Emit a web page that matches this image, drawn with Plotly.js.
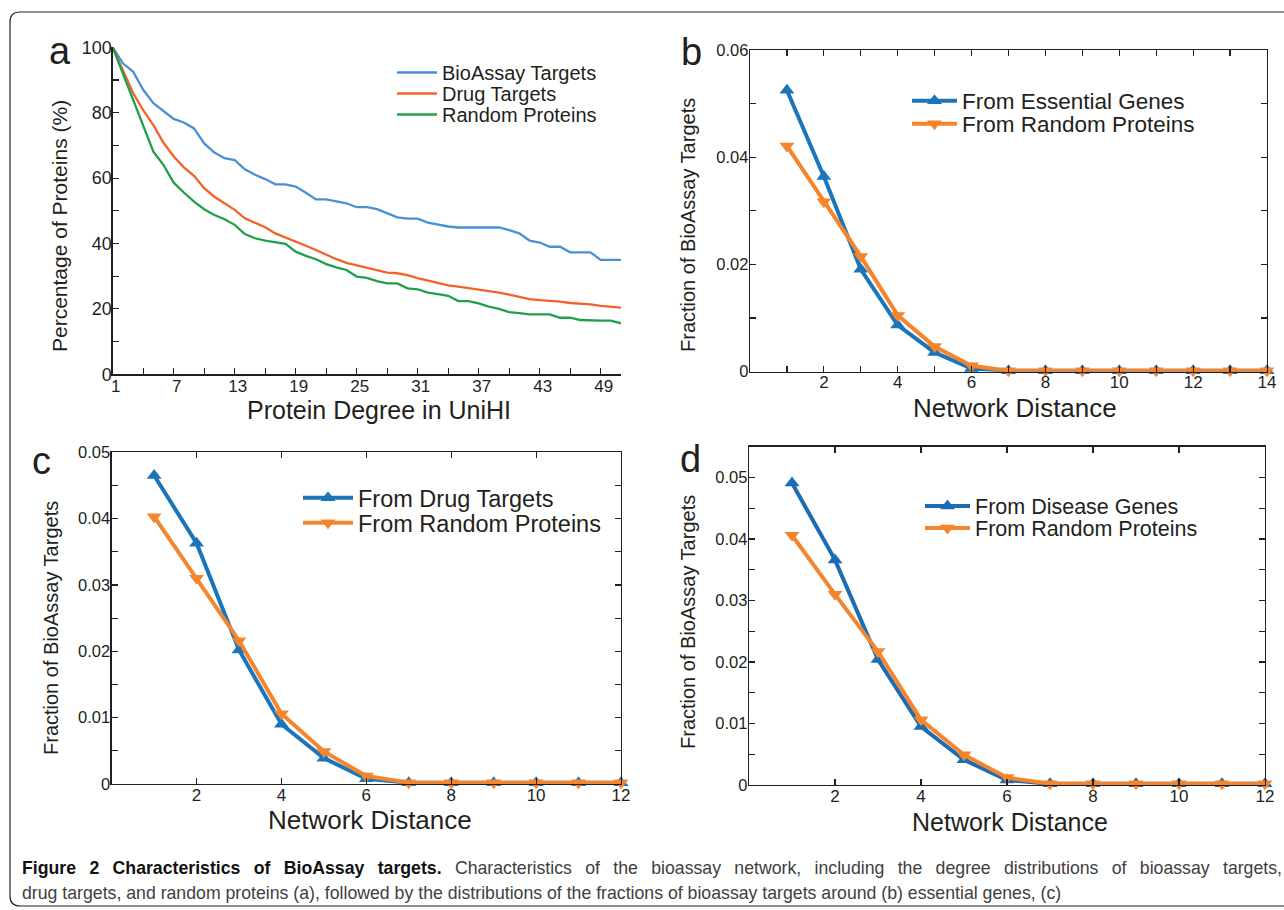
<!DOCTYPE html>
<html>
<head>
<meta charset="utf-8">
<script src="https://cdn.plot.ly/plotly-3.0.1.min.js"></script>
<style>
  html, body { margin: 0; padding: 0; background: #ffffff; }
  #chart { width: 1284px; height: 910px; }
</style>
</head>
<body>
<div id="chart"></div>
<script>
// ---------- Panel a: degree distribution (percentage of proteins with degree >= k) ----------
const degree = [1,2,3,4,5,6,7,8,9,10,11,12,13,14,15,16,17,18,19,20,21,22,23,24,25,26,27,28,29,30,31,32,33,34,35,36,37,38,39,40,41,42,43,44,45,46,47,48,49,50,51];
const bioassayTargets = [100,95.1,92.6,87,82.9,80.6,78.1,77,75.2,70.6,
  67.8,66.1,65.5,62.7,61,59.7,58.1,58.1,57.4,55.5,
  53.5,53.5,53,52.3,51.1,51.1,50.5,49.2,48,47.6,
  47.6,46.4,45.8,45.2,44.9,44.9,44.9,44.9,44.9,44.1,
  43.1,40.9,40.3,39,39,37.3,37.3,37.3,35,35,35];
const drugTargets = [100,93,86,80.8,76.2,70.8,66.6,63.3,60.7,56.9,
  54.3,52.3,50.3,47.7,46.4,45,43.1,41.9,40.6,39.3,
  38,36.5,35.2,34.1,33.4,32.6,31.9,31.1,30.9,30.3,
  29.4,28.6,27.8,27.2,26.8,26.4,26,25.4,25,24.4,
  23.8,23,22.7,22.5,22.2,21.8,21.7,21.4,20.9,20.7,20.4];
const randomProteins = [100,92,84.4,76.2,68.1,64,58.6,55.6,52.8,50.5,
  48.7,47.4,45.7,42.9,41.6,40.9,40.4,39.9,37.5,36.2,
  35.2,33.7,32.7,31.9,29.9,29.5,28.5,27.8,27.8,26.3,
  26,25,24.5,24,22.4,22.4,21.7,20.7,20,19,
  18.7,18.3,18.3,18.3,17.3,17.3,16.6,16.4,16.4,16.4,15.6];
const degreeTickLabels = [1,7,13,19,25,31,37,43,49];

// ---------- Panel b: around essential genes ----------
const distanceB = [1,2,3,4,5,6,7,8,9,10,11,12,13,14];
const fromEssentialGenes = [0.0525,0.0364,0.0191,0.0087,0.0036,0.0006,0.0002,0.0002,0.0002,0.0002,0.0002,0.0002,0.0002,0.0002];
const fromRandomB = [0.0421,0.0317,0.0215,0.0105,0.0047,0.0011,0.0002,0.0002,0.0002,0.0002,0.0002,0.0002,0.0002,0.0002];

// ---------- Panel c: around drug targets ----------
const distanceC = [1,2,3,4,5,6,7,8,9,10,11,12];
const fromDrugTargets = [0.0465,0.0363,0.0202,0.009,0.0039,0.0008,0.0002,0.0002,0.0002,0.0002,0.0002,0.0002];
const fromRandomC = [0.0403,0.031,0.0216,0.0106,0.0049,0.0012,0.0002,0.0002,0.0002,0.0002,0.0002,0.0002];

// ---------- Panel d: around disease genes ----------
const distanceD = [1,2,3,4,5,6,7,8,9,10,11,12];
const fromDiseaseGenes = [0.0491,0.0366,0.0204,0.0095,0.0041,0.0008,0.0002,0.0002,0.0002,0.0002,0.0002,0.0002];
const fromRandomD = [0.0406,0.031,0.0217,0.0106,0.0049,0.0012,0.0002,0.0002,0.0002,0.0002,0.0002,0.0002];
const distanceTickLabelsB = [2,4,6,8,10,12,14];
const distanceTickLabelsCD = [2,4,6,8,10,12];

const captionBold = 'Figure 2 Characteristics of BioAssay targets.';
const captionLine1 = ' Characteristics of the bioassay network, including the degree distributions of bioassay targets,';
const captionLine2 = 'drug targets, and random proteins (a), followed by the distributions of the fractions of bioassay targets around (b) essential genes, (c)';

// ---------- layout helpers (pixel -> paper) ----------
const W = 1284, H = 910;
const X = p => p / W;
const Y = p => 1 - p / H;
const FONT = 'Liberation Sans, Arial, Helvetica, sans-serif';
const AX = '#231f20';
const TXT = '#231f20';

const BLUE_A = '#4a90d3', ORANGE_A = '#f2622a', GREEN_A = '#20a04a';
const BLUE = '#1b75bb', BLUE_D = '#1c6bb3', ORANGE = '#f5852c';

function lineTrace(x, y, name, color, legendId) {
  return {x: x, y: y, type: 'scatter', mode: 'lines', name: name,
    line: {color: color, width: 2.3}, xaxis: 'x', yaxis: 'y', legend: legendId};
}
function markTrace(x, y, name, color, symbol, ax, legendId) {
  return {x: x, y: y, type: 'scatter', mode: 'lines+markers', name: name,
    line: {color: color, width: 4}, marker: {symbol: symbol, size: 13, color: color},
    xaxis: 'x' + ax, yaxis: 'y' + ax, legend: legendId, cliponaxis: false};
}

const traces = [
  lineTrace(degree, bioassayTargets, 'BioAssay Targets', BLUE_A, 'legend'),
  lineTrace(degree, drugTargets, 'Drug Targets', ORANGE_A, 'legend2'),
  lineTrace(degree, randomProteins, 'Random Proteins', GREEN_A, 'legend3'),
  markTrace(distanceB, fromEssentialGenes, 'From Essential Genes', BLUE, 'triangle-up', 2, 'legend4'),
  markTrace(distanceB, fromRandomB, 'From Random Proteins', ORANGE, 'triangle-down', 2, 'legend5'),
  markTrace(distanceC, fromDrugTargets, 'From Drug Targets', BLUE, 'triangle-up', 3, 'legend6'),
  markTrace(distanceC, fromRandomC, 'From Random Proteins', ORANGE, 'triangle-down', 3, 'legend7'),
  markTrace(distanceD, fromDiseaseGenes, 'From Disease Genes', BLUE_D, 'triangle-up', 4, 'legend8'),
  markTrace(distanceD, fromRandomD, 'From Random Proteins', ORANGE, 'triangle-down', 4, 'legend9')
];

function axisBase(extra) {
  return Object.assign({
    showline: true, linecolor: AX, linewidth: 1.3,
    ticks: 'inside', ticklen: 6, tickwidth: 1.2, tickcolor: AX,
    showgrid: false, zeroline: false, fixedrange: true,
    tickfont: {family: FONT, size: 17, color: TXT}
  }, extra);
}
function minor(extra) {
  return Object.assign({ticks: 'inside', ticklen: 6, tickwidth: 1.2, tickcolor: AX, showgrid: false}, extra);
}
function legendAt(px, py, size, itemwidth) {
  return {x: X(px), y: Y(py), xanchor: 'left', yanchor: 'middle', bgcolor: 'rgba(0,0,0,0)',
    font: {family: FONT, size: size, color: TXT}, tracegroupgap: 0, itemwidth: itemwidth};
}
function label(text, px, py, size, angle) {
  return {text: text, x: X(px), y: Y(py), xref: 'paper', yref: 'paper', showarrow: false,
    textangle: angle || 0, xanchor: 'center', yanchor: 'middle', font: {family: FONT, size: size, color: TXT}};
}

const layout = {
  width: W, height: H, autosize: false,
  margin: {l: 0, r: 0, t: 0, b: 0},
  paper_bgcolor: '#ffffff', plot_bgcolor: 'rgba(0,0,0,0)',
  font: {family: FONT, color: TXT},
  showlegend: true,

  // Panel a
  xaxis: axisBase({domain: [X(112.7), X(621)], range: [1, 51], anchor: 'y',
    tickmode: 'array', tickvals: degreeTickLabels, ticklabelstandoff: -4, ticklabelshift: 3,
    minor: minor({tick0: 1, dtick: 3})}),
  yaxis: axisBase({domain: [Y(374.3), Y(47.3)], range: [0, 100], anchor: 'x',
    tick0: 0, dtick: 20, ticklabelstandoff: -4, tickfont: {family: FONT, size: 18, color: TXT},
    minor: minor({tick0: 0, dtick: 10})}),

  // Panel b
  xaxis2: axisBase({domain: [X(750), X(1267)], range: [0, 14], anchor: 'y2', mirror: 'ticks',
    tickmode: 'array', tickvals: distanceTickLabelsB, ticklabelstandoff: -5,
    minor: minor({tick0: 0, dtick: 1})}),
  yaxis2: axisBase({domain: [Y(371.7), Y(50)], range: [0, 0.06], anchor: 'x2', mirror: 'ticks',
    tick0: 0, dtick: 0.02, ticklabelstandoff: -3, tickfont: {family: FONT, size: 16.5, color: TXT},
    minor: minor({tick0: 0, dtick: 0.01})}),

  // Panel c
  xaxis3: axisBase({domain: [X(111.7), X(621)], range: [0, 12], anchor: 'y3', mirror: 'ticks',
    tickmode: 'array', tickvals: distanceTickLabelsCD, ticklabelstandoff: -5}),
  yaxis3: axisBase({domain: [Y(784), Y(452.3)], range: [0, 0.05], anchor: 'x3', mirror: 'ticks',
    tick0: 0, dtick: 0.01, ticklabelstandoff: -3, tickfont: {family: FONT, size: 16.5, color: TXT},
    minor: minor({tick0: 0, dtick: 0.005})}),

  // Panel d
  xaxis4: axisBase({domain: [X(749), X(1265)], range: [0, 12], anchor: 'y4', mirror: 'ticks',
    tickmode: 'array', tickvals: distanceTickLabelsCD, ticklabelstandoff: -5}),
  yaxis4: axisBase({domain: [Y(785), Y(446.7)], range: [0, 0.055], anchor: 'x4', mirror: 'ticks',
    tick0: 0, dtick: 0.01, ticklabelstandoff: -3, tickfont: {family: FONT, size: 16.5, color: TXT},
    minor: minor({tick0: 0, dtick: 0.005})}),

  legend: legendAt(392, 72.5, 20, 40),
  legend2: legendAt(392, 93.5, 20, 40),
  legend3: legendAt(392, 114.5, 20, 40),
  legend4: legendAt(907, 101, 22.5, 45),
  legend5: legendAt(907, 124, 22.5, 45),
  legend6: legendAt(298, 498, 23.5, 50),
  legend7: legendAt(298, 523, 23.5, 50),
  legend8: legendAt(920, 506, 21.5, 45),
  legend9: legendAt(920, 528, 21.5, 45),

  shapes: [{
    type: 'path', xref: 'paper', yref: 'paper',
    path: 'M ' + X(10) + ',' + Y(22) + ' L ' + X(10) + ',' + Y(896) +
          ' Q ' + X(10) + ',' + Y(906) + ' ' + X(20) + ',' + Y(906) +
          ' L ' + X(1300) + ',' + Y(906) + ' L ' + X(1300) + ',' + Y(12) +
          ' L ' + X(20) + ',' + Y(12) + ' Q ' + X(10) + ',' + Y(12) + ' ' + X(10) + ',' + Y(22) + ' Z',
    line: {color: '#231f20', width: 1.2}, fillcolor: 'rgba(0,0,0,0)', layer: 'below'
  }],

  annotations: [
    label('a', 60, 51, 38), label('b', 692, 52, 38), label('c', 42, 461, 38), label('d', 690, 459, 38),
    label('Protein Degree in UniHI', 379, 410, 25),
    label('Percentage of Proteins (%)', 59, 226, 21, -90),
    label('Network Distance', 1015, 408, 26),
    label('Fraction of BioAssay Targets', 688, 225, 20, -90),
    label('Network Distance', 370, 820, 26),
    label('Fraction of BioAssay Targets', 51, 628, 20, -90),
    label('Network Distance', 1010, 822, 25),
    label('Fraction of BioAssay Targets', 688, 622, 20, -90),
    // caption
    {text: '<b><span style="color:#111111">' + captionBold + '</span></b>' + captionLine1,
     x: X(20), y: Y(868), xref: 'paper', yref: 'paper', showarrow: false, xanchor: 'left', yanchor: 'middle',
     align: 'left', font: {family: FONT, size: 17.7, color: '#404040'}},
    {text: captionLine2, x: X(20), y: Y(893), xref: 'paper', yref: 'paper', showarrow: false,
     xanchor: 'left', yanchor: 'middle', align: 'left', font: {family: FONT, size: 17.7, color: '#404040'}}
  ]
};

Plotly.newPlot('chart', traces, layout, {displayModeBar: false, staticPlot: true}).then(function (gd) {
  // The printed caption's first line is justified to the full text width: widen its word spacing.
  const texts = gd.querySelectorAll('.annotation-text');
  const first = texts[12];
  if (first && first.getBBox) {
    const width = first.getBBox().width;
    const spaces = (captionBold + captionLine1).split(' ').length - 1;
    const extra = (1260 - width) / spaces;
    if (extra > 0) first.setAttribute('word-spacing', extra.toFixed(2));
  }
});
</script>
</body>
</html>
